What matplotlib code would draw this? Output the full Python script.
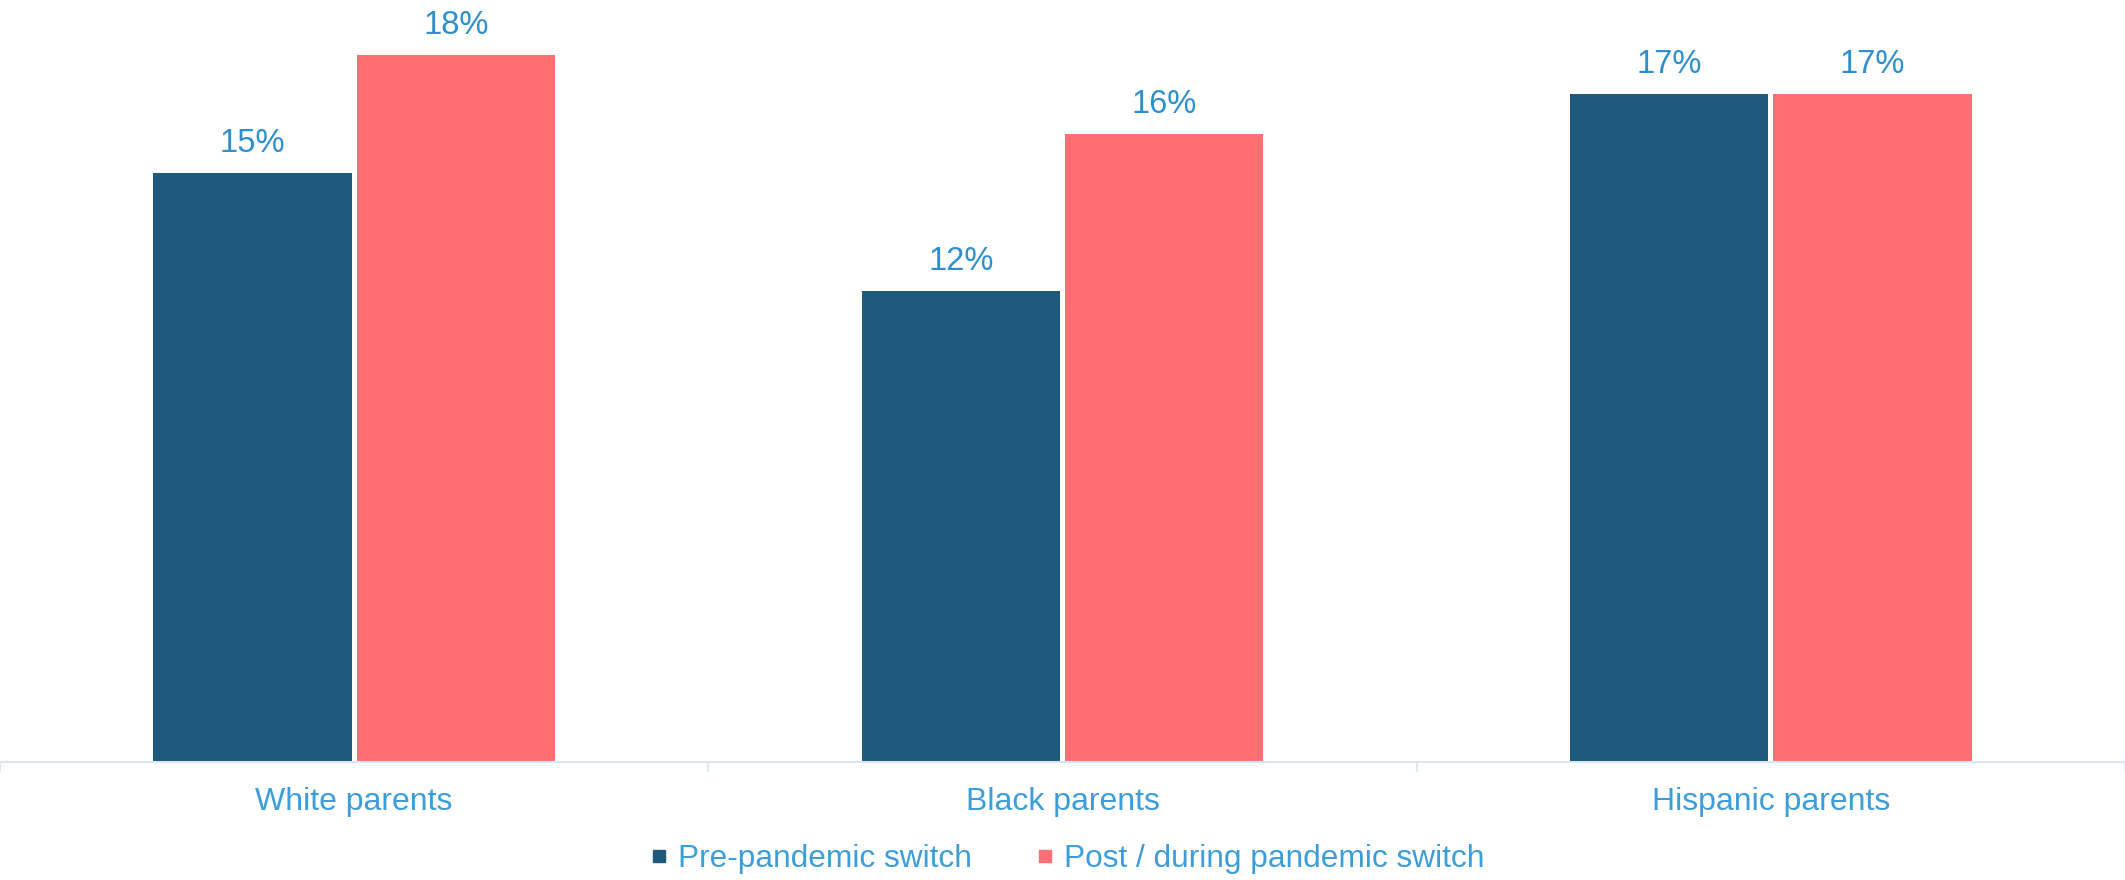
import matplotlib
matplotlib.use("Agg")
import matplotlib.pyplot as plt
from matplotlib.lines import Line2D
import numpy as np

categories = ["White parents", "Black parents", "Hispanic parents"]
series_names = ["Pre-pandemic switch", "Post / during pandemic switch"]
pre_values = [15, 12, 17]
post_values = [18, 16, 17]

dark = "#1d5a7c"
pink = "#ff7074"
value_color = "#2e8fcc"
label_color = "#3d9dd8"
axis_color = "#d6e6f2"

plt.rcParams["font.family"] = ["Liberation Sans", "DejaVu Sans"]

fig = plt.figure(figsize=(21.25, 8.8), dpi=100)
ax = fig.add_axes([0, 0.134, 1, 0.866])

x = np.arange(len(categories))
w = 0.28
off = 0.1435
b1 = ax.bar(x - off, pre_values, width=w, color=dark)
b2 = ax.bar(x + off, post_values, width=w, color=pink)

for bars, vals in ((b1, pre_values), (b2, post_values)):
    for rect, v in zip(bars, vals):
        ax.annotate(f"{v}%", (rect.get_x() + rect.get_width() / 2, rect.get_height()),
                    xytext=(0, 10), textcoords="offset points",
                    ha="center", va="bottom", fontsize=23.5, color=value_color)

ax.set_xlim(-0.5, 2.5)
ax.set_ylim(0, 19.4)
for s in ("left", "right", "top"):
    ax.spines[s].set_visible(False)
ax.spines["bottom"].set_color(axis_color)
ax.spines["bottom"].set_linewidth(1.5)
ax.set_yticks([])
ax.set_xticks(x)
ax.set_xticklabels(categories, fontsize=23, color=label_color)
ax.tick_params(axis="x", which="major", length=0, pad=18)
ax.set_xticks([-0.5, 0.5, 1.5, 2.5], minor=True)
ax.tick_params(axis="x", which="minor", length=7.5, width=1.2, color=axis_color, direction="out")

handles = [Line2D([], [], marker="s", linestyle="none", markersize=9, color=dark),
           Line2D([], [], marker="s", linestyle="none", markersize=9, color=pink)]
leg = fig.legend(handles, series_names, loc="center", bbox_to_anchor=(0.502, 0.024),
                 ncol=2, frameon=False, fontsize=22.8, handlelength=0.6,
                 handletextpad=0.3, columnspacing=2.0, labelcolor=label_color)

fig.savefig("out.png", dpi=100)
